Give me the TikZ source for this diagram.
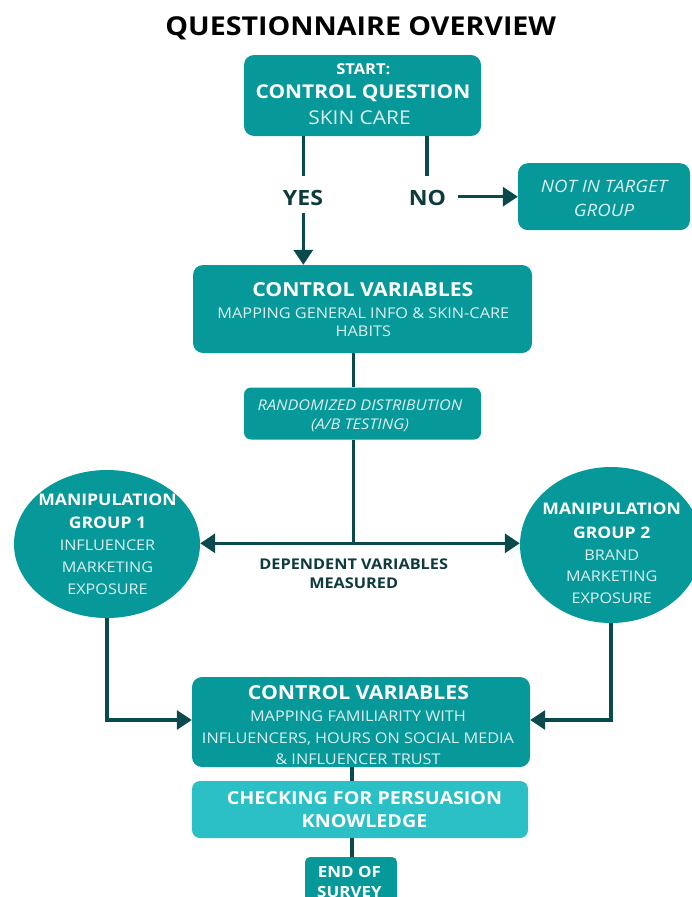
\documentclass[tikz,border=0pt]{standalone}
\usepackage{fontspec}
\setmainfont{Open Sans}
\newfontfamily\wf[FakeStretch=1.1]{Open Sans}
\usetikzlibrary{arrows.meta,shapes.geometric}
\definecolor{teal1}{HTML}{07989A}
\definecolor{tealL}{HTML}{2BC0C6}
\definecolor{dk}{HTML}{0B4A4C}
\definecolor{dktxt}{HTML}{0F3B3D}
\definecolor{soft}{HTML}{DCF0F0}
% name, x, y of cap middle, size, series, colour, text
\newcommand\Tx[7]{\node[anchor=base, inner sep=0pt, text=#6, font=\wf\fontsize{#4}{#4}\selectfont#5] (#1) at (#2,#3+0.357*#4) {#7};}
\tikzset{
  box/.style={draw=none, fill=teal1, rounded corners=10pt, inner sep=0pt},
  ell/.style={ellipse, draw=none, fill=teal1, inner sep=0pt},
  conn/.style={draw=dk, line width=3.2pt},
  arr/.style={conn, -{Triangle[length=15pt,width=19pt]}},
}
\begin{document}
\begin{tikzpicture}[x=1pt,y=-1pt]
\useasboundingbox (0,0) rectangle (692,897);
\fill[white] (0,0) rectangle (692,897);

\Tx{title}{360.8}{25.8}{26}{\bfseries}{black}{QUESTIONNAIRE OVERVIEW}

% boxes
\node[box, minimum width=237pt, minimum height=81pt] (start) at (362.5,95.5) {};
\node[box, minimum width=172pt, minimum height=67pt] (nitg) at (604,196.7) {};
\node[box, minimum width=339pt, minimum height=88pt] (cv1) at (362.5,309) {};
\node[box, rounded corners=7pt, minimum width=237pt, minimum height=52pt] (rand) at (362.5,413.5) {};
\node[ell, minimum width=186pt, minimum height=148pt] (g1) at (107,544) {};
\node[ell, minimum width=182pt, minimum height=156pt] (g2) at (611,545) {};
\node[box, minimum width=338pt, minimum height=90pt] (cv2) at (361,722) {};
\node[box, fill=tealL, rounded corners=8pt, minimum width=336pt, minimum height=57pt] (chk) at (360,809.5) {};
\node[box, rounded corners=5pt, minimum width=92pt, minimum height=48pt] (end) at (351,881) {};

% texts
\Tx{s1}{363.3}{69.5}{15}{\bfseries}{white}{START:}
\Tx{s2}{363}{91.7}{19}{\bfseries}{white}{CONTROL QUESTION}
\Tx{s3}{359.5}{117.3}{19}{}{soft}{SKIN CARE}

\Tx{yes}{303}{197.5}{21}{\bfseries}{dktxt}{YES}
\Tx{no}{427.5}{197.5}{21}{\bfseries}{dktxt}{NO}

\Tx{n1}{604}{186.7}{17}{\itshape}{soft}{NOT IN TARGET}
\Tx{n2}{604}{210}{17}{\itshape}{soft}{GROUP}

\Tx{a1}{362.8}{289.7}{19.3}{\bfseries}{white}{CONTROL VARIABLES}
\Tx{a2}{363.3}{313}{14.8}{}{soft}{MAPPING GENERAL INFO \& SKIN-CARE}
\Tx{a3}{363.3}{331.3}{14.8}{}{soft}{HABITS}

\Tx{r1}{360}{405.7}{14.8}{\itshape}{soft}{RANDOMIZED DISTRIBUTION}
\Tx{r2}{360}{424.5}{14.8}{\itshape}{soft}{(A/B TESTING)}

\Tx{p1}{107.5}{499.7}{16}{\bfseries}{white}{MANIPULATION}
\Tx{p2}{107.5}{522.5}{16}{\bfseries}{white}{GROUP 1}
\Tx{p3}{107.5}{545.5}{14.7}{}{soft}{INFLUENCER}
\Tx{p4}{107.5}{567.5}{14.7}{}{soft}{MARKETING}
\Tx{p5}{107.5}{589.2}{14.7}{}{soft}{EXPOSURE}

\Tx{q1}{611.7}{508.3}{16}{\bfseries}{white}{MANIPULATION}
\Tx{q2}{611.7}{532.5}{16}{\bfseries}{white}{GROUP 2}
\Tx{q3}{611.7}{555}{14.7}{}{soft}{BRAND}
\Tx{q4}{611.7}{576.7}{14.7}{}{soft}{MARKETING}
\Tx{q5}{611.7}{598.5}{14.7}{}{soft}{EXPOSURE}

\Tx{d1}{353.7}{563.8}{14.8}{\bfseries}{dktxt}{DEPENDENT VARIABLES}
\Tx{d2}{353.7}{583.3}{14.8}{\bfseries}{dktxt}{MEASURED}

\Tx{b1}{358.5}{692.5}{19.3}{\bfseries}{white}{CONTROL VARIABLES}
\Tx{b2}{358}{716.2}{14.8}{}{soft}{MAPPING FAMILIARITY WITH}
\Tx{b3}{358}{738}{14.8}{}{soft}{INFLUENCERS, HOURS ON SOCIAL MEDIA}
\Tx{b4}{358}{759}{14.8}{}{soft}{\& INFLUENCER TRUST}

\Tx{c1}{364.5}{797.8}{17.9}{\bfseries}{white}{CHECKING FOR PERSUASION}
\Tx{c2}{364.5}{821.2}{17.9}{\bfseries}{white}{KNOWLEDGE}

\Tx{e1}{349.4}{872}{15.4}{\bfseries}{white}{END OF}
\Tx{e2}{349.4}{892}{15.4}{\bfseries}{white}{SURVEY}

% connectors
\coordinate (ya) at (303.3,176);
\coordinate (yb) at (303.3,213);
\coordinate (na) at (427,176);
\coordinate (nb) at (458,196.7);
\draw[conn] (start.south -| ya) -- (ya);
\draw[arr] (yb) -- (cv1.north -| yb);
\draw[conn] (start.south -| na) -- (na);
\draw[arr] (nb) -- (nitg.west |- nb);

\coordinate (j) at (353.3,543.3);
\draw[conn] (cv1.south -| j) -- (rand.north -| j);
\draw[conn] (rand.south -| j) -- (j);
\draw[arr] (j) -- (g1.east |- j);
\draw[arr] (j) -- (g2.west |- j);

\coordinate (h) at (0,720);
\draw[arr] (g1.south) |- (cv2.west |- h);
\draw[arr] (g2.south) |- (cv2.east |- h);

\coordinate (k) at (352,800);
\draw[conn] (cv2.south -| k) -- (chk.north -| k);
\draw[conn] (chk.south -| k) -- (end.north -| k);
\end{tikzpicture}
\end{document}
